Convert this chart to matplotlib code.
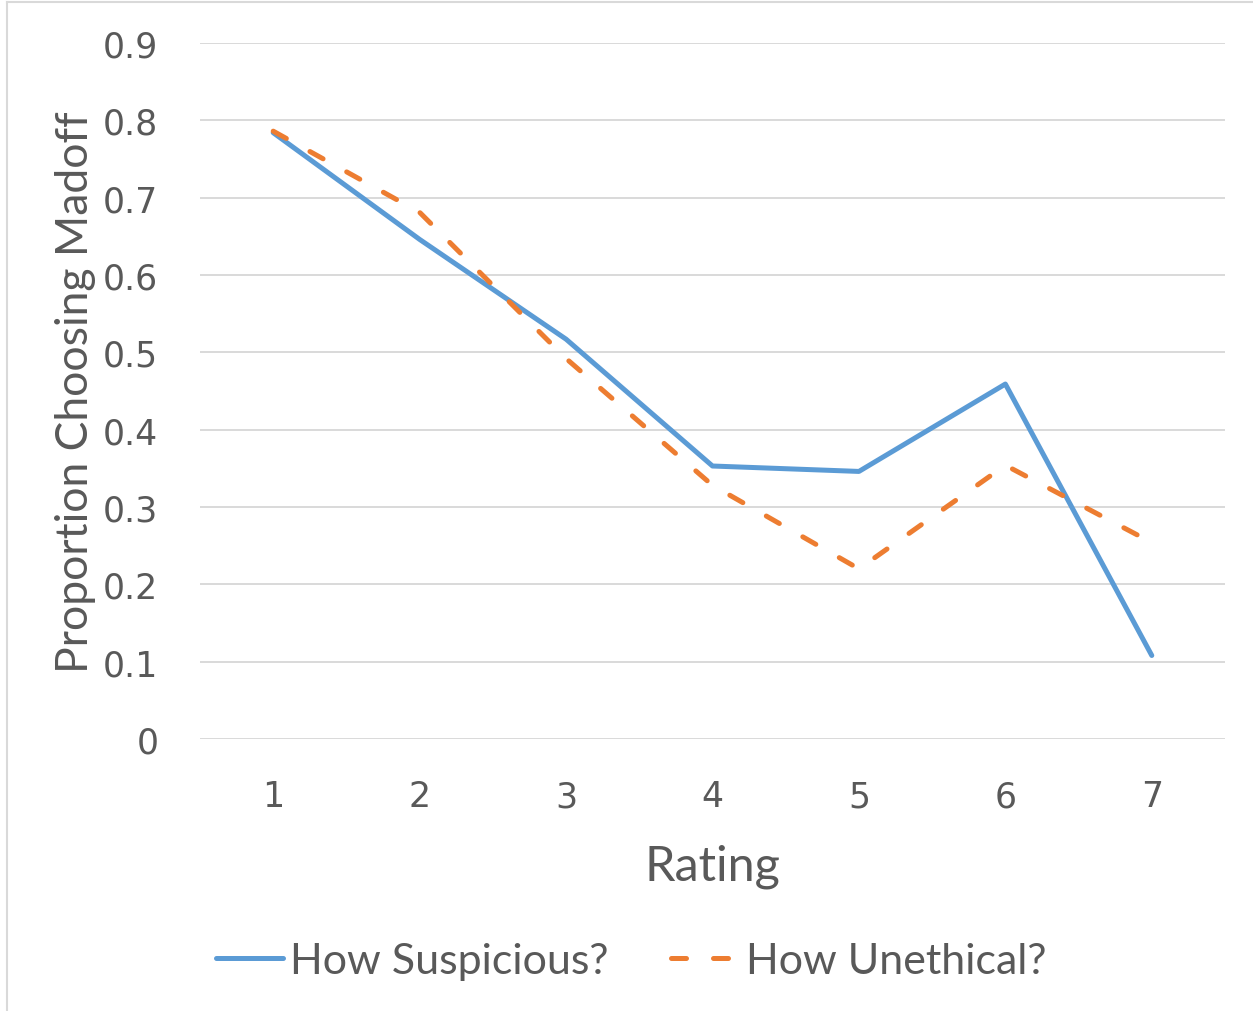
import matplotlib
matplotlib.use("Agg")
import matplotlib.pyplot as plt
from matplotlib.lines import Line2D

ratings = [1, 2, 3, 4, 5, 6, 7]
suspicious = [0.784, 0.646, 0.517, 0.353, 0.346, 0.459, 0.108]
unethical = [0.786, 0.681, 0.492, 0.328, 0.220, 0.354, 0.254]
yticks = [0, 0.1, 0.2, 0.3, 0.4, 0.5, 0.6, 0.7, 0.8, 0.9]
ytick_labels = ["0", "0.1", "0.2", "0.3", "0.4", "0.5", "0.6", "0.7", "0.8", "0.9"]

BLUE = "#5B9BD5"
ORANGE = "#ED7D31"
GRAY = "#595959"
GRID = "#D9D9D9"
DASH = (3.0, 5.4)

fig = plt.figure(figsize=(12.53, 10.12), dpi=100)
ax = fig.add_axes([200/1253, 272/1012, 1025/1253, 696/1012])

ax.plot(ratings, suspicious, color=BLUE, lw=3.6, solid_capstyle="round",
        solid_joinstyle="round", label="How Suspicious?", zorder=3)
ax.plot(ratings, unethical, color=ORANGE, lw=3.6, dash_capstyle="round",
        dashes=DASH, label="How Unethical?", zorder=3)

ax.set_xlim(0.5, 7.5)
ax.set_ylim(0, 0.9)
ax.set_yticks(yticks)
ax.set_yticklabels(ytick_labels)
ax.set_xticks(ratings)
ax.set_xticklabels([str(r) for r in ratings])
ax.grid(axis="y", color=GRID, lw=1.4)
ax.set_axisbelow(True)
for s in ax.spines.values():
    s.set_visible(False)
ax.tick_params(length=0, labelsize=25, labelcolor=GRAY)
ax.tick_params(axis="y", pad=30)
ax.tick_params(axis="x", pad=29)
for t in ax.get_xticklabels() + ax.get_yticklabels():
    t.set_fontfamily("DejaVu Sans")

ax.set_xlabel("Rating", fontsize=35, color=GRAY, family="Lato", labelpad=22)
ax.set_ylabel("Proportion Choosing Madoff", fontsize=32, color=GRAY,
              family="Lato", labelpad=5)

handles = [Line2D([], [], color=BLUE, lw=3.6, solid_capstyle="round"),
           Line2D([], [], color=ORANGE, lw=3.6, dash_capstyle="round", dashes=DASH)]
leg = fig.legend(handles, ["How Suspicious?", "How Unethical?"], loc="center",
                 bbox_to_anchor=(631/1253, 1 - 962/1012), ncol=2, frameon=False,
                 prop={"family": "Lato", "size": 31}, handlelength=1.55,
                 handletextpad=0.18, columnspacing=1.45)
for t in leg.get_texts():
    t.set_color(GRAY)

# figure border
fig.add_artist(Line2D([7/1253, 7/1253], [0, 1 - 3/1012], transform=fig.transFigure, color="#D9D9D9", lw=1.5))
fig.add_artist(Line2D([7/1253, 1], [1 - 3/1012, 1 - 3/1012], transform=fig.transFigure, color="#D9D9D9", lw=1.5))

fig.savefig("out.png", dpi=100, facecolor="white")
